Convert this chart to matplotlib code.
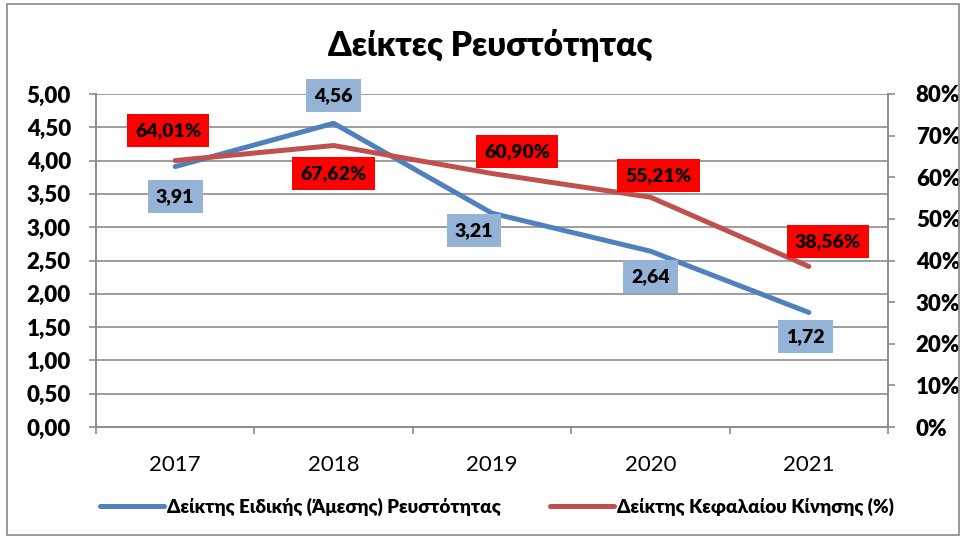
import matplotlib
matplotlib.use("Agg")
import matplotlib.pyplot as plt
from matplotlib.patches import Rectangle
from matplotlib.ticker import FixedLocator

plt.rcParams['font.family'] = ['Lato', 'DejaVu Sans']

years = ["2017", "2018", "2019", "2020", "2021"]
quick_ratio = [3.91, 4.56, 3.21, 2.64, 1.72]
working_capital_pct = [64.01, 67.62, 60.90, 55.21, 38.56]
quick_labels = ["3,91", "4,56", "3,21", "2,64", "1,72"]
wc_labels = ["64,01%", "67,62%", "60,90%", "55,21%", "38,56%"]
left_ticks = [0, 0.5, 1, 1.5, 2, 2.5, 3, 3.5, 4, 4.5, 5]
left_tick_labels = ["0,00", "0,50", "1,00", "1,50", "2,00", "2,50", "3,00", "3,50", "4,00", "4,50", "5,00"]
right_ticks = [0, 10, 20, 30, 40, 50, 60, 70, 80]
right_tick_labels = ["0%", "10%", "20%", "30%", "40%", "50%", "60%", "70%", "80%"]
title = "Δείκτες Ρευστότητας"
legend_names = ["Δείκτης Ειδικής (Άμεσης) Ρευστότητας", "Δείκτης Κεφαλαίου Κίνησης (%)"]

# label offsets in pixels (layout only)
quick_offsets = [(0, -30), (0, 28), (-18, -17), (0, -25), (-3, -24)]
wc_offsets = [(-7, 30), (0, -28), (25, 22), (8, 22), (19, 25)]

BLUE = "#4F81BD"
RED = "#C0504D"
GRID = "#8C8C8C"
W = 'heavy'

fig = plt.figure(figsize=(9.66, 5.39), dpi=100)
ax = fig.add_axes([96/966, 1-427/539, (888-96)/966, (427-94)/539])
ax2 = ax.twinx()

x = list(range(len(years)))
l1, = ax.plot(x, quick_ratio, color=BLUE, lw=3.6, solid_capstyle='round', zorder=3)
l2, = ax2.plot(x, working_capital_pct, color=RED, lw=3.6, solid_capstyle='round', zorder=3)

ax.set_xlim(-0.5, len(years) - 0.5)
ax.set_ylim(0, 5)
ax2.set_ylim(0, 80)

ax.set_yticks(left_ticks)
ax.set_yticklabels(left_tick_labels, fontsize=16, fontweight=W)
ax2.set_yticks(right_ticks)
ax2.set_yticklabels(right_tick_labels, fontsize=16, fontweight=W)

ax.set_xticks(x)
ax.set_xticklabels(years, fontsize=16)
ax.xaxis.set_minor_locator(FixedLocator([i - 0.5 for i in range(len(years) + 1)]))
ax.tick_params(axis='x', which='major', length=0, pad=20)
ax.tick_params(axis='x', which='minor', length=5, color=GRID, width=1.2)
ax.tick_params(axis='y', length=5, color=GRID, width=1.2, pad=13)
ax2.tick_params(axis='y', length=5, color=GRID, width=1.2, pad=15)

ax.grid(axis='y', color=GRID, lw=1.2)
ax.set_axisbelow(True)
for a in (ax, ax2):
    for s in ['top']:
        a.spines[s].set_visible(False)
    for s in ['left', 'right', 'bottom']:
        a.spines[s].set_color(GRID)
        a.spines[s].set_linewidth(1.2)

for xi, yi, lab, off in zip(x, quick_ratio, quick_labels, quick_offsets):
    ax2.annotate(lab, xy=(xi, yi * 16), xytext=off, textcoords='offset pixels',
                 ha='center', va='center', fontsize=14, fontweight=W, color='black',
                 bbox=dict(boxstyle='square,pad=0.42', fc='#95B3D7', ec='none'), zorder=5)
for xi, yi, lab, off in zip(x, working_capital_pct, wc_labels, wc_offsets):
    ax2.annotate(lab, xy=(xi, yi), xytext=off, textcoords='offset pixels',
                 ha='center', va='center', fontsize=14, fontweight=W, color='black',
                 bbox=dict(boxstyle='square,pad=0.42', fc='#FF0000', ec='none'), zorder=5)

fig.text(490/966, 1-45/539, title, ha='center', va='center', fontsize=24, fontweight=W)

fig.legend([l1, l2], legend_names, loc='center', bbox_to_anchor=(497/966, 1-507/539), ncol=2,
           frameon=False, prop={'size': 13.5, 'weight': W}, handlelength=3.4,
           handletextpad=0.2, columnspacing=2.6)

fig.patches.append(Rectangle((7/966, 4/539), 952/966, 531/539, transform=fig.transFigure,
                             fill=False, ec='#888888', lw=1.2))

fig.savefig("out.png", dpi=100)
